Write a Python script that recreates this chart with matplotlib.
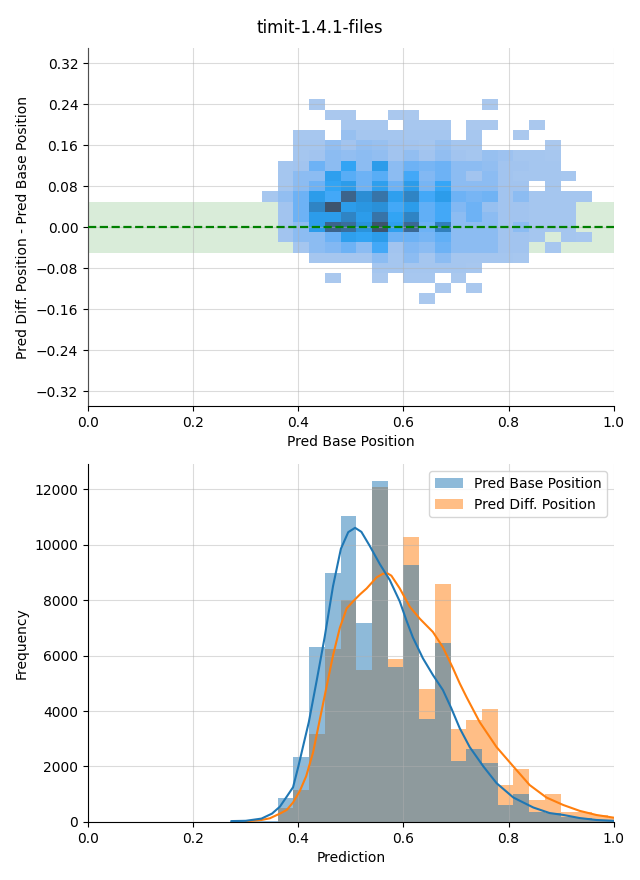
import numpy as np
import matplotlib

matplotlib.use("Agg")
import matplotlib.pyplot as plt
import seaborn as sns
from matplotlib.patches import Patch

TITLE = "timit-1.4.1-files"

# common 1D bins (left edge of first bin and bin width)
BIN0 = 0.271
BINW = 0.0299

# bottom histogram: bar heights per bin (25 bins)
base_counts = [25, 30, 45, 865, 2354, 6306, 8973, 11027, 7171, 12288, 5586, 9261, 3712,
               6450, 2210, 2631, 2126, 613, 1009, 372, 324, 192, 132, 72, 30]
diff_counts = [5, 10, 15, 505, 1153, 3171, 6234, 8000, 5477, 12084, 5874, 10270, 4793,
               8577, 3351, 3676, 4072, 1333, 1910, 793, 1009, 372, 372, 252, 132]

# KDE curves
kde_x_base = [0.273, 0.300, 0.330, 0.350, 0.365, 0.378, 0.390, 0.400, 0.410, 0.420,
              0.435, 0.450, 0.466, 0.481, 0.495, 0.508, 0.520, 0.536, 0.555, 0.574,
              0.593, 0.606, 0.618, 0.637, 0.656, 0.675, 0.691, 0.707, 0.726, 0.752,
              0.777, 0.809, 0.847, 0.878, 0.904, 0.935, 0.967, 0.999]
kde_y_base = [30, 40, 120, 300, 550, 912, 1250, 1993, 2800, 3600,
              5100, 6650, 8500, 9850, 10450, 10606, 10460, 9950, 9300, 8720,
              7950, 7250, 6650, 5900, 5300, 4757, 4100, 3380, 2700, 2000,
              1400, 880, 520, 320, 252, 140, 70, 40]
kde_x_diff = [0.300, 0.330, 0.346, 0.365, 0.378, 0.390, 0.403, 0.415, 0.428, 0.441,
              0.454, 0.466, 0.479, 0.492, 0.504, 0.517, 0.530, 0.549, 0.561, 0.570,
              0.577, 0.593, 0.612, 0.631, 0.656, 0.675, 0.694, 0.707, 0.720, 0.745,
              0.777, 0.809, 0.840, 0.872, 0.904, 0.935, 0.967, 0.999]
kde_y_diff = [20, 70, 132, 300, 432, 700, 1120, 1650, 2500, 3700,
              4900, 6000, 7000, 7700, 7950, 8200, 8420, 8820, 8950, 8960,
              8880, 8420, 7760, 7330, 6850, 6300, 5550, 4997, 4500, 3600,
              2700, 2000, 1330, 880, 610, 400, 250, 156]

# top 2D histogram: x bins start at the 3rd 1D edge, y bins below
Y0 = -0.149
BINH = 0.01993
# counts, rows listed top (y=0.25) to bottom (y=-0.149), 21 columns from x=0.331
hist2d_rows = [
    [0, 0, 0, 1, 0, 0, 0, 0, 0, 0, 0, 0, 0, 0, 1, 0, 0, 0, 0, 0, 0],
    [0, 0, 0, 0, 1, 1, 0, 0, 1, 1, 0, 0, 0, 0, 0, 0, 0, 0, 0, 0, 0],
    [0, 0, 0, 0, 0, 2, 2, 2, 0, 2, 2, 2, 0, 1, 1, 0, 0, 1, 0, 0, 0],
    [0, 0, 2, 2, 0, 8, 3, 3, 3, 3, 3, 3, 0, 2, 0, 0, 1, 0, 0, 0, 0],
    [0, 0, 3, 3, 10, 4, 10, 8, 4, 4, 3, 8, 3, 3, 0, 0, 0, 0, 1, 0, 0],
    [0, 0, 3, 4, 12, 10, 12, 10, 4, 10, 4, 10, 4, 3, 8, 6, 3, 3, 2, 0, 0],
    [0, 3, 4, 21, 12, 34, 12, 40, 12, 21, 18, 21, 12, 12, 10, 4, 4, 3, 3, 0, 0],
    [0, 3, 12, 12, 38, 26, 21, 26, 12, 30, 15, 21, 12, 4, 12, 4, 3, 3, 3, 2, 0],
    [0, 3, 12, 21, 34, 40, 21, 38, 21, 40, 18, 32, 12, 12, 12, 4, 4, 0, 3, 0, 0],
    [2, 10, 21, 40, 30, 86, 52, 73, 38, 60, 30, 40, 21, 18, 20, 4, 12, 3, 3, 3, 3],
    [0, 4, 21, 60, 100, 40, 45, 50, 30, 40, 24, 30, 15, 21, 8, 4, 4, 3, 3, 3, 0],
    [0, 4, 21, 40, 40, 60, 40, 73, 34, 60, 24, 30, 12, 21, 12, 4, 4, 3, 3, 3, 0],
    [0, 4, 12, 40, 86, 78, 48, 100, 38, 82, 21, 64, 12, 12, 12, 4, 12, 3, 3, 3, 0],
    [0, 4, 12, 12, 21, 38, 34, 40, 21, 21, 18, 24, 12, 12, 12, 4, 4, 3, 0, 3, 2],
    [0, 0, 3, 12, 15, 21, 12, 30, 4, 15, 12, 21, 12, 12, 12, 4, 4, 0, 2, 0, 0],
    [0, 0, 0, 3, 3, 3, 3, 12, 3, 12, 3, 12, 3, 3, 3, 3, 2, 0, 0, 0, 0],
    [0, 0, 0, 0, 0, 0, 0, 3, 3, 3, 3, 3, 3, 2, 0, 0, 0, 0, 0, 0, 0],
    [0, 0, 0, 0, 1, 0, 0, 1, 0, 2, 2, 0, 1, 0, 0, 0, 0, 0, 0, 0, 0],
    [0, 0, 0, 0, 0, 0, 0, 0, 0, 0, 0, 1, 0, 1, 0, 0, 0, 0, 0, 0, 0],
    [0, 0, 0, 0, 0, 0, 0, 0, 0, 0, 1, 0, 0, 0, 0, 0, 0, 0, 0, 0, 0],
]

LABEL_BASE = "Pred Base Position"
LABEL_DIFF = "Pred Diff. Position"


def main():
    fig, (ax_top, ax_bot) = plt.subplots(2, 1, figsize=(6.4, 8.8), dpi=100)
    fig.subplots_adjust(left=0.1375, right=0.959, top=0.945, bottom=0.066, hspace=0.162)
    fig.suptitle(TITLE, fontsize=12, y=0.978)

    # ---- top: 2D histogram of difference vs base ----
    counts = np.array(hist2d_rows[::-1], dtype=float)  # bottom row first
    ny, nx = counts.shape
    x_edges = BIN0 + BINW * (2 + np.arange(nx + 1))
    y_edges = Y0 + BINH * np.arange(ny + 1)
    xc = (x_edges[:-1] + x_edges[1:]) / 2
    yc = (y_edges[:-1] + y_edges[1:]) / 2
    gx, gy = np.meshgrid(xc, yc)

    ax_top.axhspan(-0.05, 0.05, color="green", alpha=0.15, lw=0, zorder=0)
    sns.histplot(x=gx.ravel(), y=gy.ravel(), weights=counts.ravel(),
                 bins=[x_edges, y_edges], ax=ax_top)
    ax_top.axhline(0, color="green", ls="--", lw=1.6, zorder=4)
    ax_top.set_xlim(0, 1)
    ax_top.set_ylim(-0.349, 0.349)
    ax_top.set_yticks(np.round(np.arange(-0.32, 0.33, 0.08), 2))
    ax_top.set_xticks(np.arange(0, 1.01, 0.2))
    ax_top.set_xlabel("Pred Base Position")
    ax_top.set_ylabel("Pred Diff. Position - Pred Base Position")
    ax_top.set_axisbelow(False)
    ax_top.grid(True, color="#b0b0b0", alpha=0.45, lw=0.8)

    # ---- bottom: overlaid histograms with KDE ----
    edges = BIN0 + BINW * np.arange(len(base_counts) + 1)
    ax_bot.bar(edges[:-1], diff_counts, width=BINW, align="edge",
               color="C1", alpha=0.5, lw=0)
    ax_bot.bar(edges[:-1], base_counts, width=BINW, align="edge",
               color="C0", alpha=0.5, lw=0)
    ax_bot.plot(kde_x_diff, kde_y_diff, color="C1", lw=1.5)
    ax_bot.plot(kde_x_base, kde_y_base, color="C0", lw=1.5)
    ax_bot.set_xlim(0, 1)
    ax_bot.set_xticks(np.arange(0, 1.01, 0.2))
    ax_bot.set_xlabel("Prediction")
    ax_bot.set_ylabel("Frequency")
    ax_bot.grid(True, color="#b0b0b0", alpha=0.45, lw=0.8)
    ax_bot.legend(handles=[Patch(facecolor="C0", alpha=0.5, label=LABEL_BASE),
                           Patch(facecolor="C1", alpha=0.5, label=LABEL_DIFF)],
                  loc="upper right")

    for ax in (ax_top, ax_bot):
        ax.spines["top"].set_visible(False)
        ax.spines["right"].set_visible(False)

    fig.savefig("out.png", dpi=100)


if __name__ == "__main__":
    main()
